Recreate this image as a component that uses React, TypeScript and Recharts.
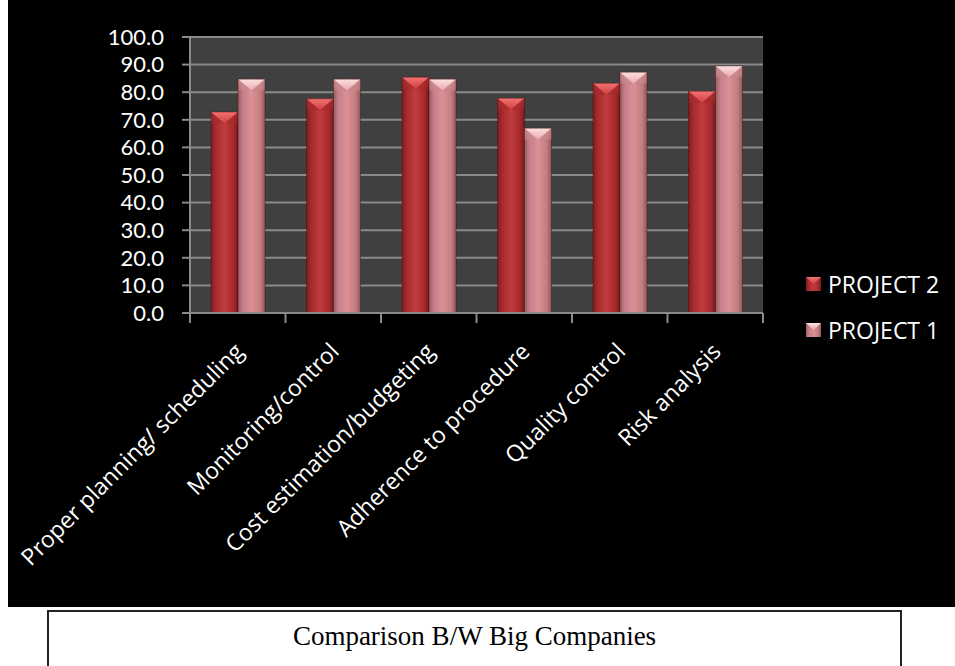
import { BarChart, Bar, XAxis, YAxis, CartesianGrid, Legend } from 'recharts';

const categories = [
  'Proper planning/ scheduling',
  'Monitoring/control',
  'Cost estimation/budgeting',
  'Adherence to procedure',
  'Quality control',
  'Risk analysis',
];
const project2 = [72.8, 77.6, 85.4, 77.8, 83.2, 80.3];
const project1 = [84.7, 84.7, 84.7, 66.9, 87.2, 89.5];
const yTicks = [0, 10, 20, 30, 40, 50, 60, 70, 80, 90, 100];
const seriesNames = ['PROJECT 2', 'PROJECT 1'];
const caption = 'Comparison B/W Big Companies';

const chartData = categories.map((name, i) => ({
  name,
  p2: project2[i],
  p1: project1[i],
}));

const FONT = '"Open Sans", "DejaVu Sans", sans-serif';
const TICK_FONT = 'Lato, "Open Sans", sans-serif';
const CHART_W = 947;
const CHART_H = 607;
const MARGIN = { top: 37, right: 192, bottom: 0, left: 0 };
const Y_AXIS_W = 182;
const PLOT_W = CHART_W - MARGIN.right - MARGIN.left - Y_AXIS_W;
const BAND = PLOT_W / categories.length;
const AXIS_GRAY = '#8a8a8a';

// gradient ids for each series, red first then pink
const kinds = ['red', 'pink'];

function BevelBar(props: any) {
  const { x, y, width, height, kind } = props;
  if (!width || !height || height <= 0) return null;
  const d = Math.min(width * 0.42, height);
  return (
    <g>
      <rect x={x} y={y} width={width} height={height} fill={`url(#body-${kind})`} />
      <polygon
        points={`${x},${y} ${x + width},${y} ${x + width / 2},${y + d}`}
        fill={`url(#top-${kind})`}
      />
      <polygon points={`${x},${y} ${x + width / 2},${y + d} ${x},${y + d}`} fill={`url(#side-${kind})`} opacity={0.6} />
      <polygon points={`${x + width},${y} ${x + width / 2},${y + d} ${x + width},${y + d}`} fill={`url(#side-${kind})`} opacity={0.6} />
      <rect x={x} y={y} width={width} height={height} fill="none" stroke="rgba(60,0,0,0.35)" strokeWidth={1} />
    </g>
  );
}

function XTick(props: any) {
  const { x, y, payload, index } = props;
  const last = index === categories.length - 1;
  return (
    <g>
      <line x1={x - BAND / 2} y1={y} x2={x - BAND / 2} y2={y + 10} stroke={AXIS_GRAY} strokeWidth={2} />
      {last && <line x1={x + BAND / 2} y1={y} x2={x + BAND / 2} y2={y + 10} stroke={AXIS_GRAY} strokeWidth={2} />}
      <text
        x={x + 7}
        y={y + 40}
        transform={`rotate(-45, ${x + 7}, ${y + 40})`}
        textAnchor="end"
        fill="#ffffff"
        fontSize={23}
        fontFamily={FONT}
      >
        {payload.value}
      </text>
    </g>
  );
}

function LegendBox() {
  return (
    <div>
      {seriesNames.map((name, i) => (
        <div key={name} style={{ display: 'flex', alignItems: 'center', height: 30, marginBottom: 16 }}>
          <svg width={15} height={14}>
            <rect x={0} y={0} width={15} height={14} fill={`url(#body-${kinds[i]})`} />
            <polygon points="0,0 15,0 7.5,7" fill={`url(#top-${kinds[i]})`} />
          </svg>
          <span style={{ marginLeft: 7, color: '#fff', fontSize: 23, fontFamily: FONT, lineHeight: '30px' }}>{name}</span>
        </div>
      ))}
    </div>
  );
}

export default function App() {
  return (
    <div style={{ position: 'absolute', left: 0, top: 0, width: 955, height: 666, background: '#fff', overflow: 'hidden' }}>
      <svg width={0} height={0} style={{ position: 'absolute' }}>
        <defs>
          <linearGradient id="body-red" x1="0" y1="0" x2="1" y2="0">
            <stop offset="0%" stopColor="#7e1c20" />
            <stop offset="18%" stopColor="#a72b2e" />
            <stop offset="50%" stopColor="#c23b3d" />
            <stop offset="82%" stopColor="#a62a2d" />
            <stop offset="100%" stopColor="#761a1e" />
          </linearGradient>
          <linearGradient id="top-red" x1="0" y1="0" x2="0" y2="1">
            <stop offset="0%" stopColor="#f27272" />
            <stop offset="100%" stopColor="#d0403f" />
          </linearGradient>
          <linearGradient id="side-red" x1="0" y1="0" x2="0" y2="1">
            <stop offset="0%" stopColor="#b83234" />
            <stop offset="100%" stopColor="#a02a2c" />
          </linearGradient>
          <linearGradient id="body-pink" x1="0" y1="0" x2="1" y2="0">
            <stop offset="0%" stopColor="#9a5c5f" />
            <stop offset="18%" stopColor="#c5808a" />
            <stop offset="50%" stopColor="#dc9094" />
            <stop offset="82%" stopColor="#c27e81" />
            <stop offset="100%" stopColor="#925659" />
          </linearGradient>
          <linearGradient id="top-pink" x1="0" y1="0" x2="0" y2="1">
            <stop offset="0%" stopColor="#fde0e0" />
            <stop offset="100%" stopColor="#eaa9ac" />
          </linearGradient>
          <linearGradient id="side-pink" x1="0" y1="0" x2="0" y2="1">
            <stop offset="0%" stopColor="#d99a9c" />
            <stop offset="100%" stopColor="#c98487" />
          </linearGradient>
        </defs>
      </svg>

      {/* black chart area */}
      <div style={{ position: 'absolute', left: 8, top: 0, width: CHART_W, height: CHART_H, background: '#000' }}>
        <BarChart
          width={CHART_W}
          height={CHART_H}
          data={chartData}
          margin={MARGIN}
          barCategoryGap="22%"
          barGap={0}
        >
          <CartesianGrid vertical={false} fill="#404040" stroke={AXIS_GRAY} strokeWidth={2} />
          <XAxis
            dataKey="name"
            height={CHART_H - 313}
            interval={0}
            tickLine={false}
            tickSize={0}
            tickMargin={0}
            axisLine={{ stroke: AXIS_GRAY, strokeWidth: 2 }}
            tick={<XTick />}
          />
          <YAxis
            width={Y_AXIS_W}
            domain={[0, 100]}
            ticks={yTicks}
            interval={0}
            tickFormatter={(v: number) => v.toFixed(1)}
            tickSize={8}
            tickMargin={18}
            tickLine={{ stroke: AXIS_GRAY, strokeWidth: 2 }}
            axisLine={{ stroke: AXIS_GRAY, strokeWidth: 2 }}
            tick={{ fill: '#ffffff', fontSize: 22, fontFamily: TICK_FONT }}
          />
          <Legend
            layout="vertical"
            align="center"
            verticalAlign="middle"
            content={<LegendBox />}
            wrapperStyle={{ left: 798, top: 269, width: 150 }}
          />
          <Bar
            dataKey="p2"
            name={seriesNames[0]}
            isAnimationActive={false}
            fill="#b83234"
            shape={(p: any) => <BevelBar {...p} kind="red" />}
          />
          <Bar
            dataKey="p1"
            name={seriesNames[1]}
            isAnimationActive={false}
            fill="#d98e91"
            shape={(p: any) => <BevelBar {...p} kind="pink" />}
          />
        </BarChart>
      </div>

      {/* caption box */}
      <div
        style={{
          position: 'absolute',
          left: 47,
          top: 610,
          width: 851,
          height: 90,
          border: '2px solid #222',
        }}
      >
        <div
          style={{
            position: 'absolute',
            left: 0,
            right: 0,
            top: 11,
            textAlign: 'center',
            fontFamily: '"Liberation Serif", "Times New Roman", serif',
            fontSize: 27,
            lineHeight: '27px',
            color: '#000',
          }}
        >
          {caption}
        </div>
      </div>
    </div>
  );
}
